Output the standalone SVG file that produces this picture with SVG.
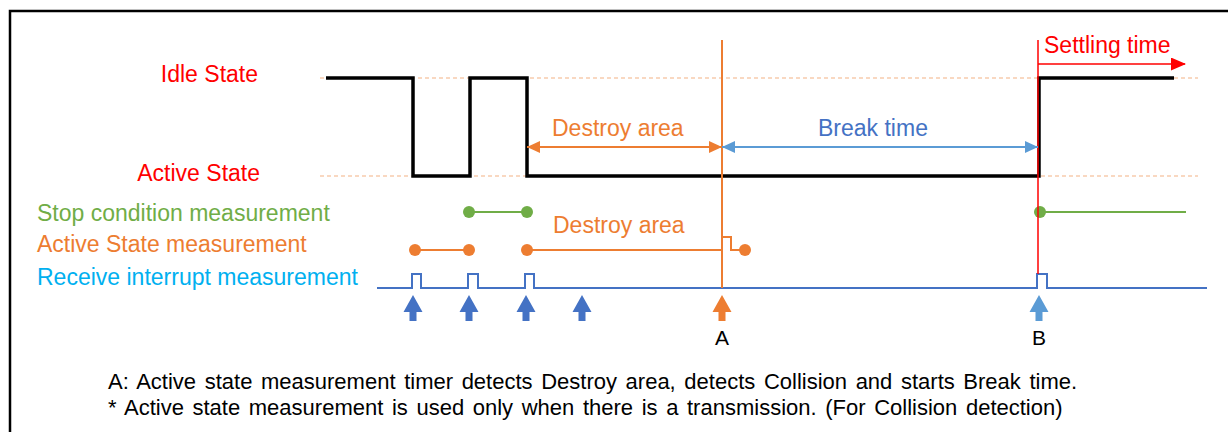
<svg xmlns="http://www.w3.org/2000/svg" width="1228" height="432" viewBox="0 0 1228 432">
<style>
text{font-family:"Liberation Sans",Arial,sans-serif}
.lbl{font-size:23px}
.dash{stroke:#F4B183;stroke-width:1.2;stroke-dasharray:4 3;fill:none}
.org{fill:#ED7D31}
.grn{fill:#70AD47}
.note{font-size:22px;fill:#000;word-spacing:2.5px}
</style>
<defs>
<marker id="ao" markerUnits="userSpaceOnUse" markerWidth="14" markerHeight="14" refX="13" refY="6" orient="auto-start-reverse"><path d="M0,0 L13,6 L0,12 Z" fill="#ED7D31"/></marker>
<marker id="ab" markerUnits="userSpaceOnUse" markerWidth="14" markerHeight="14" refX="13" refY="6" orient="auto-start-reverse"><path d="M0,0 L13,6 L0,12 Z" fill="#5B9BD5"/></marker>
<marker id="ar" markerUnits="userSpaceOnUse" markerWidth="16" markerHeight="14" refX="14" refY="6.5" orient="auto"><path d="M0,0 L15,6.5 L0,13 Z" fill="#FF0000"/></marker>
<path id="up" d="M0,0 L9.5,17 L3.5,17 L3.5,26 L-3.5,26 L-3.5,17 L-9.5,17 Z"/>
</defs>
<rect width="1228" height="432" fill="#fff"/>
<path d="M10,440 V11 H1230" fill="none" stroke="#000" stroke-width="2.5"/>

<g id="levels">
<text class="lbl" x="258" y="82" text-anchor="end" fill="#FF0000">Idle State</text>
<text class="lbl" x="260" y="181" text-anchor="end" fill="#FF0000">Active State</text>
<line class="dash" x1="320" y1="78" x2="1198" y2="78"/>
<line class="dash" x1="320" y1="176" x2="1198" y2="176"/>
</g>

<g id="bus-waveform">
<path d="M326,78 H413 V176 H470 V78 H527 V176 H1039 V78 H1174" fill="none" stroke="#000" stroke-width="3.5"/>
</g>

<g id="stop-condition">
<text class="lbl" x="37" y="221" fill="#70AD47">Stop condition measurement</text>
<line x1="469" y1="212" x2="527" y2="212" stroke="#70AD47" stroke-width="2"/>
<circle class="grn" cx="469" cy="212" r="6"/>
<circle class="grn" cx="527" cy="212" r="6"/>
<line x1="1040" y1="212" x2="1186" y2="212" stroke="#70AD47" stroke-width="2"/>
<circle class="grn" cx="1040" cy="212" r="6"/>
</g>

<g id="active-measurement">
<text class="lbl" x="37" y="252" fill="#ED7D31">Active State measurement</text>
<line x1="415" y1="250" x2="469" y2="250" stroke="#ED7D31" stroke-width="2"/>
<circle class="org" cx="415" cy="250" r="6"/>
<circle class="org" cx="469" cy="250" r="6"/>
<path d="M527,250 H722 V237 H731 V250 H745" fill="none" stroke="#ED7D31" stroke-width="2"/>
<circle class="org" cx="527" cy="250" r="6"/>
<circle class="org" cx="745" cy="250" r="6"/>
<text class="lbl" x="553" y="233" fill="#ED7D31">Destroy area</text>
</g>

<g id="receive-interrupt">
<text class="lbl" x="37" y="285" fill="#00B0F0">Receive interrupt measurement</text>
<path d="M377,288 H412 V274 H421 V288 H468 V274 H478 V288 H525 V274 H534 V288 H1037 V274 H1047 V288 H1207" fill="none" stroke="#4472C4" stroke-width="2"/>
<use href="#up" x="413" y="295" fill="#4472C4"/>
<use href="#up" x="469" y="295" fill="#4472C4"/>
<use href="#up" x="526" y="295" fill="#4472C4"/>
<use href="#up" x="582" y="295" fill="#4472C4"/>
</g>

<g id="point-A">
<line x1="722" y1="40" x2="722" y2="288" stroke="#ED7D31" stroke-width="2"/>
<use href="#up" x="722" y="295" fill="#ED7D31"/>
<text x="722" y="345" text-anchor="middle" font-size="21" fill="#000">A</text>
</g>

<g id="point-B">
<line x1="1038" y1="40" x2="1038" y2="274" stroke="#FF0000" stroke-width="1.5"/>
<use href="#up" x="1039" y="295" fill="#5B9BD5"/>
<text x="1039" y="345" text-anchor="middle" font-size="21" fill="#000">B</text>
</g>

<g id="connectors">
<line x1="527" y1="147" x2="722" y2="147" stroke="#ED7D31" stroke-width="2" marker-start="url(#ao)" marker-end="url(#ao)"/>
<line x1="722" y1="147" x2="1038" y2="147" stroke="#5B9BD5" stroke-width="2" marker-start="url(#ab)" marker-end="url(#ab)"/>
<line x1="1038" y1="64" x2="1185" y2="64" stroke="#FF0000" stroke-width="1.5" marker-end="url(#ar)"/>
</g>

<g id="interval-labels">
<text class="lbl" x="552" y="136" fill="#ED7D31">Destroy area</text>
<text class="lbl" x="818" y="136" fill="#4472C4">Break time</text>
<text x="1044" y="53" font-size="23" fill="#FF0000">Settling time</text>
</g>

<g id="notes">
<text class="note" x="108" y="389">A: Active state measurement timer detects Destroy area, detects Collision and starts Break time.</text>
<text class="note" x="108" y="415">* Active state measurement is used only when there is a transmission. (For Collision detection)</text>
</g>
</svg>
